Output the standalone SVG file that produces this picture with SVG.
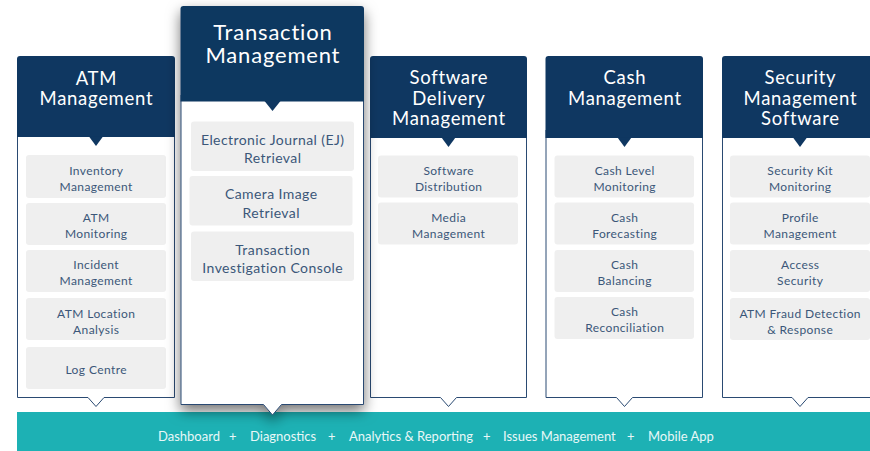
<svg xmlns="http://www.w3.org/2000/svg" width="870" height="451" viewBox="0 0 870 451">
<defs>
<style>
.hdr{fill:#0f3761}
.body{fill:#ffffff;stroke:#2a4a72;stroke-width:1}
.item{fill:#efefef}
.ht{font-family:Lato,"Open Sans",sans-serif;font-size:18.5px;letter-spacing:0.7px;fill:#ffffff;text-anchor:middle}
.htb{font-family:Lato,"Open Sans",sans-serif;font-size:22px;letter-spacing:0.8px;fill:#ffffff;text-anchor:middle}
.it{font-family:Lato,"Open Sans",sans-serif;font-size:12px;letter-spacing:0.4px;fill:#3b5779;text-anchor:middle}
.itb{font-family:Lato,"Open Sans",sans-serif;font-size:14px;letter-spacing:0.42px;fill:#3b5779;text-anchor:middle}
.bt{font-family:Lato,"Open Sans",sans-serif;font-size:13px;fill:#e8f8f8}
</style>
<filter id="sh" x="-30%" y="-20%" width="160%" height="150%">
<feDropShadow dx="0" dy="6" stdDeviation="7" flood-color="#000" flood-opacity="0.55"/>
</filter>
</defs>
<rect width="870" height="451" fill="#ffffff"/>

<g id="platform-bar">
<rect x="17" y="412" width="853" height="39" fill="#1db1b4"/>
</g>

<g id="atm-management">
<path class="body" d="M17.5,130 V397.5 H88 L96,406.5 L104,397.5 H174.5 V130 Z"/>
<path class="hdr" d="M17,137 V59 Q17,56 20,56 H172 Q175,56 175,59 V137 Z"/>
<path class="hdr" d="M89,136.5 H103 L96,146 Z"/>
<text class="ht" x="96.4" y="84.5">ATM</text>
<text class="ht" x="96.4" y="105">Management</text>
<rect class="item" x="26" y="155" width="140" height="43" rx="3"/>
<text class="it" x="96.2" y="175">Inventory</text><text class="it" x="96.2" y="191">Management</text>
<rect class="item" x="26" y="203" width="140" height="42" rx="3"/>
<text class="it" x="96.2" y="222">ATM</text><text class="it" x="96.2" y="238">Monitoring</text>
<rect class="item" x="26" y="250" width="140" height="42" rx="3"/>
<text class="it" x="96.2" y="269">Incident</text><text class="it" x="96.2" y="285">Management</text>
<rect class="item" x="26" y="298" width="140" height="42" rx="3"/>
<text class="it" x="96.2" y="318">ATM Location</text><text class="it" x="96.2" y="334">Analysis</text>
<rect class="item" x="26" y="347" width="140" height="42" rx="3"/>
<text class="it" x="96.2" y="374">Log Centre</text>
</g>

<g id="software-delivery-management">
<path class="body" d="M370.5,130 V397.5 H440.5 L448.5,406.5 L456.5,397.5 H526.5 V130 Z"/>
<path class="hdr" d="M370,138 V59 Q370,56 373,56 H524 Q527,56 527,59 V138 Z"/>
<path class="hdr" d="M441.5,137.5 H455.5 L448.5,147 Z"/>
<text class="ht" x="448.9" y="84">Software</text>
<text class="ht" x="448.9" y="104.5">Delivery</text>
<text class="ht" x="448.9" y="125">Management</text>
<rect class="item" x="378" y="155.5" width="140" height="42" rx="3"/>
<text class="it" x="448.7" y="175">Software</text><text class="it" x="448.7" y="191">Distribution</text>
<rect class="item" x="378" y="202.5" width="140" height="42" rx="3"/>
<text class="it" x="448.7" y="222">Media</text><text class="it" x="448.7" y="238">Management</text>
</g>

<g id="cash-management">
<path class="body" d="M546,130 V397.5 H616.5 L624.5,406.5 L632.5,397.5 H702.5 V130 Z"/>
<path class="hdr" d="M545.5,138 V59 Q545.5,56 548.5,56 H700 Q703,56 703,59 V138 Z"/>
<path class="hdr" d="M617.5,137.5 H631.5 L624.5,147 Z"/>
<text class="ht" x="624.9" y="84">Cash</text>
<text class="ht" x="624.9" y="105">Management</text>
<rect class="item" x="554.5" y="155.5" width="139.5" height="42" rx="3"/>
<text class="it" x="624.7" y="175">Cash Level</text><text class="it" x="624.7" y="191">Monitoring</text>
<rect class="item" x="554.5" y="202.5" width="139.5" height="42" rx="3"/>
<text class="it" x="624.7" y="222">Cash</text><text class="it" x="624.7" y="238">Forecasting</text>
<rect class="item" x="554.5" y="250" width="139.5" height="42" rx="3"/>
<text class="it" x="624.7" y="269">Cash</text><text class="it" x="624.7" y="285">Balancing</text>
<rect class="item" x="554.5" y="297" width="139.5" height="42" rx="3"/>
<text class="it" x="624.7" y="316">Cash</text><text class="it" x="624.7" y="332">Reconciliation</text>
</g>

<g id="security-management-software">
<path class="body" d="M722.5,130 V397.5 H792 L800,406.5 L808,397.5 H878.5 V130 Z"/>
<path class="hdr" d="M722,138 V59 Q722,56 725,56 H876 Q879,56 879,59 V138 Z"/>
<path class="hdr" d="M793,137.5 H807 L800,147 Z"/>
<text class="ht" x="800.4" y="84">Security</text>
<text class="ht" x="800.4" y="104.5">Management</text>
<text class="ht" x="800.4" y="124.5">Software</text>
<rect class="item" x="730" y="155.5" width="140" height="42" rx="3"/>
<text class="it" x="800.2" y="175">Security Kit</text><text class="it" x="800.2" y="191">Monitoring</text>
<rect class="item" x="730" y="202.5" width="140" height="42" rx="3"/>
<text class="it" x="800.2" y="222">Profile</text><text class="it" x="800.2" y="238">Management</text>
<rect class="item" x="730" y="250" width="140" height="42" rx="3"/>
<text class="it" x="800.2" y="269">Access</text><text class="it" x="800.2" y="285">Security</text>
<rect class="item" x="730" y="298" width="140" height="42" rx="3"/>
<text class="it" x="800.2" y="318">ATM Fraud Detection</text><text class="it" x="800.2" y="334">&amp; Response</text>
</g>

<g id="transaction-management">
<g filter="url(#sh)">
<path class="body" d="M181,95 V404.5 H263.5 L272.5,415 L281.5,404.5 H363.5 V95 Z"/>
<path class="hdr" d="M180.5,101.5 V9 Q180.5,6 183.5,6 H361 Q364,6 364,9 V101.5 Z"/>
</g>
<path class="hdr" d="M264.5,101 H280.5 L272.5,111 Z"/>
<text class="htb" x="272.9" y="40">Transaction</text>
<text class="htb" x="272.9" y="62.5">Management</text>
<rect class="item" x="191" y="121.5" width="163" height="49.5" rx="3"/>
<text class="itb" x="272.7" y="144.5">Electronic Journal (EJ)</text><text class="itb" x="272.7" y="163">Retrieval</text>
<rect class="item" x="189.5" y="176" width="163" height="49.5" rx="3"/>
<text class="itb" x="271.2" y="199">Camera Image</text><text class="itb" x="271.2" y="218">Retrieval</text>
<rect class="item" x="191" y="231.5" width="163" height="49.5" rx="3"/>
<text class="itb" x="272.7" y="255">Transaction</text><text class="itb" x="272.7" y="273">Investigation Console</text>
</g>

<g id="platform-features">
<text class="bt" x="158" y="440.5">Dashboard</text>
<text class="bt" x="229" y="440.5">+</text>
<text class="bt" x="250" y="440.5">Diagnostics</text>
<text class="bt" x="328" y="440.5">+</text>
<text class="bt" x="349" y="440.5">Analytics &amp; Reporting</text>
<text class="bt" x="483" y="440.5">+</text>
<text class="bt" x="503" y="440.5">Issues Management</text>
<text class="bt" x="627" y="440.5">+</text>
<text class="bt" x="648" y="440.5">Mobile App</text>
</g>
<g id="connectors"/>
</svg>
